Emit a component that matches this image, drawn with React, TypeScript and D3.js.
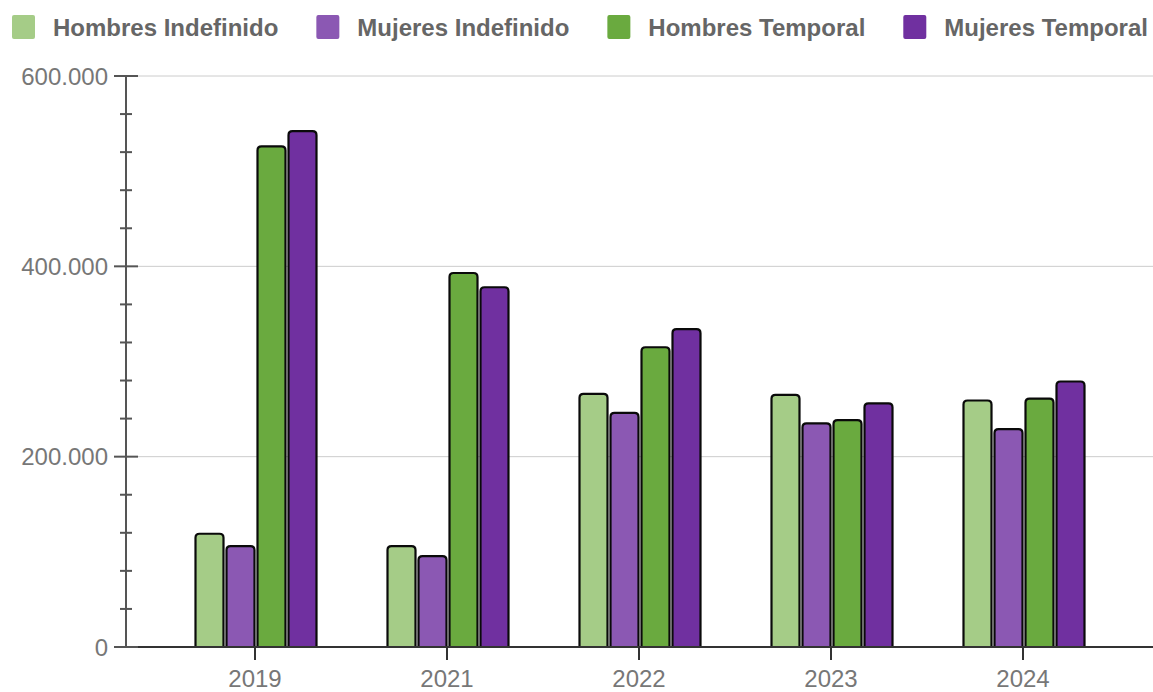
import React, { useRef, useEffect } from 'react';
import * as d3 from 'd3';

const years = ['2019', '2021', '2022', '2023', '2024'];
const seriesNames = ['Hombres Indefinido', 'Mujeres Indefinido', 'Hombres Temporal', 'Mujeres Temporal'];
const seriesColors = ['#a5cc87', '#8b58b3', '#6aaa3f', '#7030a0'];

const hombresIndefinido = [119000, 106000, 266000, 265000, 259000];
const mujeresIndefinido = [106000, 95500, 246000, 235000, 229000];
const hombresTemporal = [526000, 393000, 315000, 238500, 261000];
const mujeresTemporal = [542000, 378000, 334000, 256000, 279000];

const yTicks = [0, 200000, 400000, 600000];

const W = 1153;
const H = 692;

const esFormat = d3.formatLocale({ decimal: ',', thousands: '.', grouping: [3], currency: ['', '€'] }).format(',');

// bar with rounded top corners only
const topRounded = (x: number, y: number, w: number, h: number, r: number) => {
  const rr = Math.min(r, h / 2, w / 2);
  return `M${x},${y + h}V${y + rr}Q${x},${y} ${x + rr},${y}H${x + w - rr}Q${x + w},${y} ${x + w},${y + rr}V${y + h}`;
};

export default function App() {
  const ref = useRef<SVGSVGElement | null>(null);

  useEffect(() => {
    if (!ref.current) return;
    const svg = d3.select(ref.current);
    svg.selectAll('*').remove();

    const font = 'Liberation Sans, Arial, Helvetica, sans-serif';
    const axisX = 126;
    const baseY = 647;
    const topY = 76;

    const series = [hombresIndefinido, mujeresIndefinido, hombresTemporal, mujeresTemporal];

    const y = d3.scaleLinear().domain([0, 600000]).range([baseY, topY]);
    const x0 = d3.scaleBand<string>().domain(years).range([159, 1119]);
    const x1 = d3.scaleBand<string>().domain(seriesNames).range([-61, 63]);

    // grid
    svg.append('g')
      .selectAll('line')
      .data(yTicks.filter(d => d > 0))
      .join('line')
      .attr('x1', axisX + 12).attr('x2', W)
      .attr('y1', d => y(d)).attr('y2', d => y(d))
      .attr('stroke', '#cccccc').attr('stroke-width', 1);

    // minor ticks
    const minor = d3.range(0, 600001, 40000).filter(d => d % 200000 !== 0);
    svg.append('g')
      .selectAll('line')
      .data(minor)
      .join('line')
      .attr('x1', axisX - 6).attr('x2', axisX + 6)
      .attr('y1', d => y(d)).attr('y2', d => y(d))
      .attr('stroke', '#555').attr('stroke-width', 2);

    // major ticks + labels
    const yg = svg.append('g');
    yg.selectAll('line')
      .data(yTicks)
      .join('line')
      .attr('x1', axisX - 12).attr('x2', axisX + 12)
      .attr('y1', d => y(d)).attr('y2', d => y(d))
      .attr('stroke', '#555').attr('stroke-width', 2);
    yg.selectAll('text')
      .data(yTicks)
      .join('text')
      .attr('x', 108)
      .attr('y', d => y(d) + 8.5)
      .attr('text-anchor', 'end')
      .attr('fill', '#777')
      .style('font-family', font)
      .style('font-size', '24px')
      .text(d => esFormat(d));

    // bars
    const groups = svg.append('g')
      .selectAll('g')
      .data(years)
      .join('g')
      .attr('transform', d => `translate(${(x0(d) ?? 0) + x0.bandwidth() / 2},0)`);

    groups.selectAll('path')
      .data((_, i) => seriesNames.map((name, s) => ({ name, s, v: series[s][i] })))
      .join('path')
      .attr('d', d => {
        const bx = (x1(d.name) ?? 0) + 1.5;
        const top = y(d.v);
        return topRounded(bx, top, 28, baseY - top, 4);
      })
      .attr('fill', d => seriesColors[d.s])
      .attr('stroke', '#0a0a0a')
      .attr('stroke-width', 2.2)
      .attr('stroke-linejoin', 'round');

    // y axis line
    svg.append('line')
      .attr('x1', axisX).attr('x2', axisX)
      .attr('y1', topY).attr('y2', baseY + 1)
      .attr('stroke', '#555').attr('stroke-width', 2);

    // x axis
    svg.append('line')
      .attr('x1', axisX + 12).attr('x2', W)
      .attr('y1', baseY).attr('y2', baseY)
      .attr('stroke', '#333').attr('stroke-width', 2);

    const xg = svg.append('g');
    xg.selectAll('line')
      .data(years)
      .join('line')
      .attr('x1', d => (x0(d) ?? 0) + x0.bandwidth() / 2)
      .attr('x2', d => (x0(d) ?? 0) + x0.bandwidth() / 2)
      .attr('y1', baseY).attr('y2', baseY + 13)
      .attr('stroke', '#333').attr('stroke-width', 2);
    xg.selectAll('text')
      .data(years)
      .join('text')
      .attr('x', d => (x0(d) ?? 0) + x0.bandwidth() / 2)
      .attr('y', 687)
      .attr('text-anchor', 'middle')
      .attr('fill', '#777')
      .style('font-family', font)
      .style('font-size', '24px')
      .text(d => d);

    // legend
    const legend = svg.append('g');
    let lx = 12;
    seriesNames.forEach((name, i) => {
      legend.append('rect')
        .attr('x', lx).attr('y', 15)
        .attr('width', 23).attr('height', 24)
        .attr('rx', 2)
        .attr('fill', seriesColors[i]);
      const t = legend.append('text')
        .attr('x', lx + 41)
        .attr('y', 36)
        .attr('fill', '#666')
        .style('font-family', font)
        .style('font-size', '24px')
        .style('font-weight', 'bold')
        .text(name);
      const tw = (t.node() as SVGTextElement).getComputedTextLength();
      lx += 41 + tw + 38;
    });
  }, []);

  return (
    <svg
      ref={ref}
      width={W}
      height={H}
      style={{ position: 'absolute', left: 0, top: 0, background: '#fff' }}
    />
  );
}
